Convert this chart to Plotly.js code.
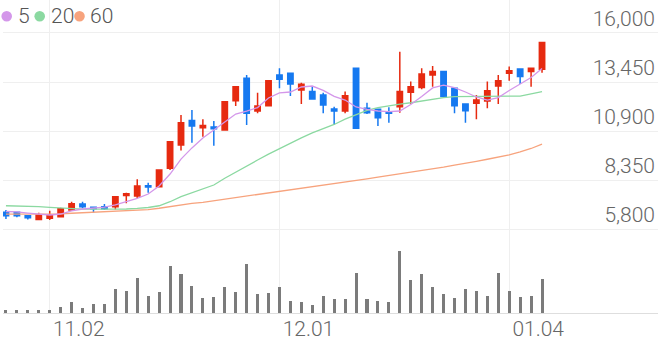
<!DOCTYPE html>
<html><head><meta charset="utf-8">
<script src="https://cdn.plot.ly/plotly-3.0.1.min.js"></script>
<style>html,body{margin:0;padding:0;background:#fff;overflow:hidden}#chart{width:658px;height:342px}</style>
</head><body><div id="chart"></div>
<script>
const dates = ['10.27','10.28','10.29','10.30',
  '11.02','11.03','11.04','11.05','11.06',
  '11.09','11.10','11.11','11.12','11.13',
  '11.16','11.17','11.18','11.19','11.20',
  '11.23','11.24','11.25','11.26','11.27',
  '11.30',
  '12.01','12.02','12.03','12.04',
  '12.07','12.08','12.09','12.10','12.11',
  '12.14','12.15','12.16','12.17','12.18',
  '12.21','12.22','12.23','12.24',
  '12.28','12.29','12.30',
  '01.04','01.05','01.06','01.07'];
const open  = [6670,6670,6490,6300,6360,6440,6790,7100,6930,6960,6960,7550,7520,8050,8000,8960,10170,11440,11070,11110,10950,12480,13640,11940,12220,13810,13900,13030,12950,12770,12040,11940,14160,12080,12030,11900,12160,12910,13170,13810,13990,13120,12300,12340,12460,13240,13900,14130,13990,14110];
const high  = [6790,6700,6530,6650,6750,6910,7220,7220,6930,7100,7520,7690,8390,8210,8870,10340,11730,11990,11510,11420,12420,13240,13810,12890,13520,14160,13930,13410,13240,12890,12160,12950,14160,12370,12040,12130,15030,13470,14160,14280,14040,13170,12300,12770,13470,13810,14250,14160,14160,15500];
const low   = [6320,6410,6300,6300,6270,6410,6750,6880,6650,6790,6820,7140,7400,7690,7970,8870,9880,10290,10600,10130,10910,12200,11210,11820,12200,13120,12720,12300,12560,11820,11210,11820,11000,11780,11160,11330,11850,12300,13070,13200,12650,11820,11330,11510,12080,12300,13520,13350,13200,13930];
const close = [6490,6490,6390,6530,6530,6860,7120,6960,6860,6860,7480,7640,8040,7990,8870,10340,11330,11160,11180,11020,12420,13200,11820,12200,13520,13590,13350,13330,12560,12250,11940,12740,11040,11850,11590,11820,12950,13200,13870,13990,12690,12220,11960,12510,13000,13520,14040,13730,14160,15500];
const ma5  = [6710,6690,6630,6580,6530,6580,6740,6840,6880,6940,7050,7200,7390,7620,8040,8660,9440,10020,10540,10950,11370,11780,11940,12120,12620,12880,12930,13190,13240,13010,12700,12510,12150,12020,11940,11910,11940,12280,12700,13140,13290,13160,12930,12670,12510,12640,13010,13350,13680,14150];
const ma20 = [7010,7000,6980,6960,6930,6890,6860,6830,6830,6830,6830,6840,6870,6920,7010,7220,7480,7690,7870,8090,8440,8770,9080,9390,9700,9990,10280,10540,10800,11030,11240,11520,11760,11970,12120,12220,12300,12370,12460,12560,12640,12690,12690,12690,12690,12690,12700,12720,12830,12950];
const ma60 = [6570,6570,6570,6580,6580,6590,6620,6650,6670,6700,6710,6750,6770,6810,6880,6970,7050,7130,7190,7270,7350,7420,7500,7580,7660,7750,7830,7910,8000,8080,8160,8250,8330,8410,8500,8580,8660,8750,8840,8930,9020,9120,9210,9320,9430,9540,9660,9810,9990,10220];
const volume = [33,27,33,33,33,60,110,53,87,87,243,217,353,167,210,470,387,273,150,160,263,207,493,190,200,260,123,113,83,173,143,143,400,143,117,113,617,330,393,257,190,147,237,223,167,403,223,157,170,343];
const priceTicks = [5800,8350,10900,13450,16000];
const dateTicks = ['11.02','12.01','01.04'];
const maNames = ['5','20','60'];
const maColors = ['#d497ea','#8bd9a1','#f7a37d'];

const RED = '#e62a10', BLUE = '#1679f0';
const FONT = {family:'Roboto', color:'#666', size:21, weight:300};
const traces = [
  {type:'bar', x:dates, y:volume, yaxis:'y2', marker:{color:'#7b7b7b'}, width:0.28, hoverinfo:'skip'},
  {type:'candlestick', x:dates, open:open, high:high, low:low, close:close,
   increasing:{line:{color:RED,width:1.5}, fillcolor:RED},
   decreasing:{line:{color:BLUE,width:1.5}, fillcolor:BLUE},
   whiskerwidth:0, hoverinfo:'skip'},
  {type:'scatter', mode:'lines', x:dates, y:ma60, line:{color:maColors[2], width:1.3}, hoverinfo:'skip'},
  {type:'scatter', mode:'lines', x:dates, y:ma20, line:{color:maColors[1], width:1.3}, hoverinfo:'skip'},
  {type:'scatter', mode:'lines', x:dates, y:ma5, line:{color:maColors[0], width:1.3}, hoverinfo:'skip'}
];

const PW = 655, PH = 313;
const legendDots = [6.7, 39.7, 79.5];
const legendText = [17, 50, 89];
const shapes = maColors.map((c,i)=>({type:'circle', xref:'paper', yref:'paper', xsizemode:'pixel', ysizemode:'pixel',
  xanchor:(legendDots[i]-3)/PW, yanchor:1-16.3/PH, x0:-5.3, x1:5.3, y0:-5.3, y1:5.3, fillcolor:c, line:{width:0}}));
const annotations = maNames.map((n,i)=>({xref:'paper', yref:'paper', x:(legendText[i]-3)/PW, y:1-16.3/PH,
  xanchor:'left', yanchor:'middle', text:n, showarrow:false, xshift:-1, font:{size:21,color:'#555',family:'Roboto',weight:300}}));

const layout = {
  width:658, height:342, margin:{l:3,r:0,t:0,b:29}, paper_bgcolor:'#fff', plot_bgcolor:'#fff',
  showlegend:false, bargap:0,
  font:FONT,
  xaxis:{type:'category', range:[-0.27,59.6], tickvals:dateTicks, showgrid:true, gridcolor:'#efefef', gridwidth:1,
    showline:true, linecolor:'#dedede', linewidth:1, ticks:'', tickfont:FONT,
    ticklabelshift:29, ticklabelstandoff:-3, rangeslider:{visible:false}, zeroline:false, fixedrange:true},
  yaxis:{side:'right', range:[1429,17717], tickvals:priceTicks, tickformat:',', ticklabelposition:'inside top',
    showgrid:true, gridcolor:'#efefef', gridwidth:1, zeroline:false, showline:false, ticks:'',
    tickfont:FONT},
  yaxis2:{overlaying:'y', range:[0,3130], visible:false, showgrid:false, zeroline:false},
  shapes:shapes, annotations:annotations
};
Plotly.newPlot('chart', traces, layout, {staticPlot:true, displayModeBar:false});
</script></body></html>
